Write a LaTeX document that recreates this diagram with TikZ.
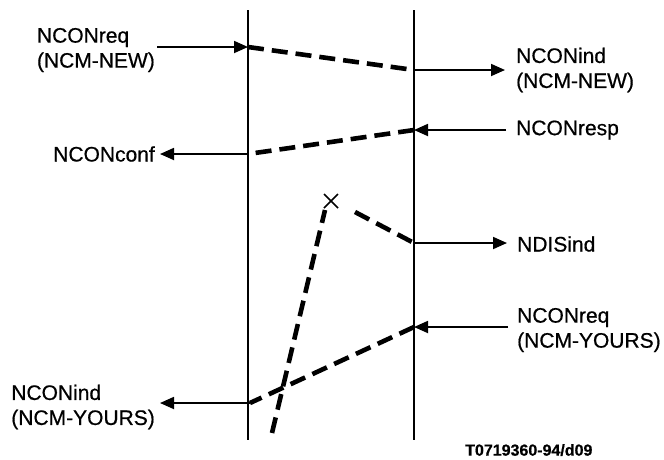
\documentclass[tikz,border=0pt]{standalone}
\usepackage{fontspec}
\setmainfont{Liberation Sans}[FakeBold=0.6]
\usetikzlibrary{arrows.meta,calc}
\begin{document}
\begin{tikzpicture}[x=1pt,y=-1pt,
  lifeline/.style={line width=1.9pt},
  prim/.style={line width=1.8pt,-{Triangle[length=14pt,width=12pt]}},
  pdu/.style={line width=4.6pt,dash pattern=on 16pt off 8pt},
  lbl/.style={font=\fontsize{21}{25}\selectfont,inner sep=0pt,align=left},
  captext/.style={font=\bfseries\fontsize{16}{18}\selectfont,inner sep=0pt}]
\useasboundingbox (0,0) rectangle (664,459);
% lifelines
\coordinate (Lt) at (248,10);
\coordinate (Lb) at (248,440);
\coordinate (Rt) at (414,10);
\coordinate (Rb) at (414,440);
\draw[lifeline] (Lt) -- (Lb);
\draw[lifeline] (Rt) -- (Rb);
% labels
\node[lbl,anchor=east] (reqnew) at (155,50) {NCONreq\\(NCM-NEW)};
\node[lbl,anchor=west] (indnew) at (516,70) {NCONind\\(NCM-NEW)};
\node[lbl,anchor=west] (resp) at (516,130) {NCONresp};
\node[lbl,anchor=east] (conf) at (155,154) {NCONconf};
\node[lbl,anchor=west] (disind) at (517,244) {NDISind};
\node[lbl,anchor=west] (reqyours) at (517,330) {NCONreq\\(NCM-YOURS)};
\node[lbl,anchor=east] (indyours) at (155,407) {NCONind\\(NCM-YOURS)};
\node[captext,anchor=west] (caption) at (465,450) {T0719360-94/d09};
% points on lifelines
\coordinate (a1) at (248,47);
\coordinate (a2) at (414,70);
\coordinate (b1) at (414,130);
\coordinate (b2) at (248,154);
\coordinate (c2) at (414,243);
\coordinate (d1) at (414,327);
\coordinate (d2) at (250,403);
\coordinate (xm) at (331,201);
\coordinate (cs) at (355,212);
\coordinate (es) at (272,433);
\coordinate (ee) at (325,210);
% primitives
\draw[prim] (157,47) -- (a1);
\draw[prim] (a2) -- (505,70);
\draw[prim] (506,130) -- (b1);
\draw[prim] (b2) -- (160,154);
\draw[prim] (c2) -- (507,243);
\draw[prim] (508,327) -- (d1);
\draw[prim] (d2) -- (160,403);
% PDUs
\draw[pdu] (a1) -- (a2);
\draw[pdu] (b1) -- (b2);
\draw[pdu] (cs) -- (c2);
\draw[pdu] (d1) -- (d2);
\draw[pdu] (es) -- (ee);
% lost marker
\draw[line width=1.6pt] ($(xm)+(-7,-7)$) -- ($(xm)+(7,7)$);
\draw[line width=1.6pt] ($(xm)+(-7,7)$) -- ($(xm)+(7,-7)$);
\end{tikzpicture}
\end{document}
